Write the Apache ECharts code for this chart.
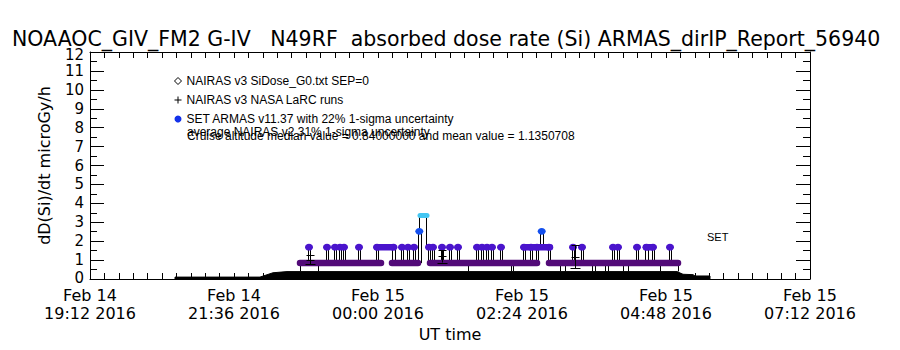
<!DOCTYPE html>
<html><head><meta charset="utf-8">
<script src="https://cdn.jsdelivr.net/npm/echarts@6/dist/echarts.min.js"></script>
<style>html,body{margin:0;padding:0;background:#fff}#chart{width:900px;height:350px}</style>
</head><body><div id="chart"></div>
<script>
// x values: minutes after Feb 14 2016 19:12 UT
const titleText = 'NOAAOC_GIV_FM2 G-IV   N49RF  absorbed dose rate (Si) ARMAS_dirIP_Report_56940';
const xTickLabels = ['Feb 14\n19:12 2016','Feb 14\n21:36 2016','Feb 15\n00:00 2016','Feb 15\n02:24 2016','Feb 15\n04:48 2016','Feb 15\n07:12 2016'];
const legendLabels = ['NAIRAS v3 SiDose_G0.txt SEP=0','NAIRAS v3 NASA LaRC runs','SET ARMAS v11.37 with 22% 1-sigma uncertainty'];
const noteLines = ['average NAIRAS v2 31% 1-sigma uncertainty','Cruise altitude median value = 0.84000000 and mean value = 1.1350708'];

// NAIRAS v3 model dose rate (black filled profile)
const nairasMinutes = [85, 85, 170, 183, 197, 587, 593, 603, 605, 620, 620];
const nairasValues  = [0, 0.10, 0.10, 0.33, 0.39, 0.39, 0.25, 0.23, 0.16, 0.16, 0];

// ARMAS constant runs: [startMinute, endMinute, value]
const armasRuns = [
  [210, 291, 0.84], [302, 328, 0.84], [340, 447, 0.84], [459, 588, 0.84],
  [287, 303, 1.68], [434, 460, 1.68], [556, 562, 1.68],
  [330, 337, 3.36]
];
// ARMAS single readings above the running level: [minute, value, level before]
const armasSpikes = [
  [219,1.68,0.84],[237,1.68,0.84],[245,1.68,0.84],[250,1.68,0.84],[254,1.68,0.84],[269,1.68,0.84],
  [287,1.68,0.84],[303.5,1.68,0.84],[312,1.68,0.84],[318,1.68,0.84],[324,1.68,0.84],
  [329.3,2.52,0.84],[339,1.68,0.84],[343,1.68,0.84],[352,1.68,0.84],[360,1.68,0.84],[368,1.68,0.84],
  [387,1.68,0.84],[392,1.68,0.84],[397,1.68,0.84],[402,1.68,0.84],[411,1.68,0.84],
  [434,1.68,0.84],[441,1.68,0.84],[447,1.68,0.84],[451.7,2.52,1.68],[459,1.68,0.84],
  [483,1.68,0.84],[492,1.68,0.84],[523,1.68,0.84],[528,1.68,0.84],[547,1.68,0.84],
  [556.5,1.68,0.84],[563,1.68,0.84],[580,1.68,0.84]
];
// ARMAS connecting steps: [minute, fromValue, toValue]
const armasLinks = [[329.3, 2.52, 3.36], [336.2, 3.36, 1.68]];
// ARMAS short drops: [minute, value]
const armasDips = [[210,0.4],[228,0.4],[378,0.4],[421,0.4],[423,0.4],[470,0.4],[475,0.4],[502,0.4],[505,0.4],[515,0.4],[518,0.4],[533,0.4],[538,0.4],[570,0.4],[588,0.4]];
// NAIRAS v3 LaRC runs: [minute, value, 1-sigma]
const larcRuns = [[220, 1.03, 0.24], [352, 1.2, 0.33], [485, 1.18, 0.62]];

function colorFor(v){
  if (v > 3) return '#44c6f2';
  if (v > 2) return '#1450ee';
  if (v > 1) return '#4a14cc';
  return '#520a78';
}
const px = x => Math.round(x) + 0.5;

const chart = echarts.init(document.getElementById('chart'), null, {renderer:'svg'});
const axisBlack = {lineStyle:{color:'#000', width:1}};
const FONT = 'DejaVu Sans';

const option = {
  animation: false,
  backgroundColor: '#fff',
  title: {text: titleText, left: 12, top: 28, padding: 0,
    textStyle:{fontFamily: FONT, fontSize: 20.5, fontWeight:'normal', color:'#000'}},
  grid: {left: 90, right: 90, top: 52, bottom: 71},
  legend: {
    left: 174, top: 75, padding: 0, orient:'vertical', itemWidth: 7, itemHeight: 7, itemGap: 7, selectedMode: false,
    textStyle:{fontFamily:'Liberation Sans', fontSize: 12, color:'#000'},
    data: [
      {name: legendLabels[0], icon:'diamond', itemStyle:{color:'#fff', borderColor:'#000', borderWidth:1}},
      {name: legendLabels[1], icon:'path://M3,0h1v3h3v1h-3v3h-1v-3h-3v-1h3z', itemStyle:{color:'#000'}},
      {name: legendLabels[2], icon:'circle', itemStyle:{color:'#1432ea'}}
    ]
  },
  graphic: [
    {type:'text', left:187, top:125.5, style:{text: noteLines[0], font:'12px "Liberation Sans"', fill:'#000'}},
    {type:'text', left:187, top:129.7, style:{text: noteLines[1], font:'12px "Liberation Sans"', fill:'#000'}},
    {type:'text', left:707, top:231, style:{text: 'SET', font:'11px "Liberation Sans"', fill:'#000'}}
  ],
  xAxis: [
    {type:'value', min:0, max:720, interval:144, position:'bottom',
      axisLine:{show:true, onZero:false, ...axisBlack},
      axisTick:{show:true, inside:true, length:6, ...axisBlack},
      minorTick:{show:true, splitNumber:10, length:6, ...axisBlack},
      splitLine:{show:false}, minorSplitLine:{show:false},
      axisLabel:{fontFamily:FONT, fontSize:16, lineHeight:18, color:'#000', margin:7,
        showMinLabel:true, showMaxLabel:true,
        formatter: v => xTickLabels[Math.round(v/144)]},
      name:'UT time', nameLocation:'middle', nameGap:45,
      nameTextStyle:{fontFamily:FONT, fontSize:16, color:'#000'}},
    {type:'value', min:0, max:720, interval:144, position:'top',
      axisLine:{show:true, onZero:false, ...axisBlack},
      axisTick:{show:true, inside:true, length:6, ...axisBlack},
      minorTick:{show:true, splitNumber:10, length:6, ...axisBlack},
      splitLine:{show:false}, axisLabel:{show:false}}
  ],
  yAxis: [
    {type:'value', min:0, max:12, interval:1, position:'left',
      axisLine:{show:true, onZero:false, ...axisBlack},
      axisTick:{show:true, inside:true, length:14, ...axisBlack},
      minorTick:{show:true, splitNumber:2, length:7, ...axisBlack},
      splitLine:{show:false},
      axisLabel:{fontFamily:FONT, fontSize:15, color:'#000', margin:6,
        showMinLabel:true, showMaxLabel:true, hideOverlap:false,
        formatter: v => v === 12 ? '{top|12}' : (v === 0 ? '{bot|0}' : String(v)),
        rich:{
          top:{fontFamily:FONT, fontSize:15, color:'#000', padding:[6,0,0,0]},
          bot:{fontFamily:FONT, fontSize:15, color:'#000', padding:[0,0,3,0]}
        }},
      name:'dD(Si)/dt microGy/h', nameLocation:'middle', nameGap:38,
      nameTextStyle:{fontFamily:FONT, fontSize:16, color:'#000'}},
    {type:'value', min:0, max:12, interval:1, position:'right',
      axisLine:{show:true, onZero:false, ...axisBlack},
      axisTick:{show:true, inside:true, length:14, ...axisBlack},
      minorTick:{show:true, splitNumber:2, length:7, ...axisBlack},
      splitLine:{show:false}, axisLabel:{show:false}}
  ],
  series: [
    {name: legendLabels[0], type:'line', z:2, symbol:'none',
      data: nairasMinutes.map((m,i)=>[m, nairasValues[i]]),
      lineStyle:{color:'#000', width:1}, itemStyle:{color:'#000'},
      areaStyle:{color:'#000', opacity:1}},
    {type:'custom', z:2, silent:true, encode:{x:0, y:1}, data: armasDips,
      renderItem:(p, api)=>{
        const a = api.coord([api.value(0), 0.84]), b = api.coord([api.value(0), api.value(1)]);
        return {type:'line', shape:{x1:px(a[0]), y1:a[1], x2:px(a[0]), y2:b[1]}, style:{stroke:'#000', lineWidth:1}};
      }},
    {name: legendLabels[2], type:'custom', z:3, encode:{x:0, y:1}, data: armasSpikes,
      itemStyle:{color:'#1432ea'},
      renderItem:(p, api)=>{
        const t = api.value(0), v = api.value(1), b = api.value(2);
        const top = api.coord([t, v]), bot = api.coord([t, b]);
        return {type:'group', children:[
          {type:'line', shape:{x1:px(top[0]-1.4), y1:top[1], x2:px(top[0]-1.4), y2:bot[1]}, style:{stroke:'#000', lineWidth:1}},
          {type:'line', shape:{x1:px(top[0]+1.4), y1:top[1], x2:px(top[0]+1.4), y2:bot[1]}, style:{stroke:'#000', lineWidth:1}},
          {type:'ellipse', shape:{cx:top[0], cy:top[1], rx:4, ry:3.4}, style:{fill: colorFor(v)}, z2:5}
        ]};
      }},
    {type:'custom', z:3, silent:true, encode:{x:0, y:[1,2]}, data: armasLinks,
      renderItem:(p, api)=>{
        const a = api.coord([api.value(0), api.value(1)]), b = api.coord([api.value(0), api.value(2)]);
        return {type:'line', shape:{x1:px(a[0]), y1:a[1], x2:px(a[0]), y2:b[1]}, style:{stroke:'#000', lineWidth:1}};
      }},
    {type:'custom', z:4, silent:true, encode:{x:[0,1], y:2}, data: armasRuns,
      renderItem:(p, api)=>{
        const v = api.value(2);
        const s = api.coord([api.value(0), v]), e = api.coord([api.value(1), v]);
        return {type:'line', shape:{x1:s[0], y1:s[1], x2:e[0], y2:e[1]},
          style:{stroke: colorFor(v), lineWidth: v > 3 ? 5 : 6.5, lineCap:'round'}};
      }},
    {name: legendLabels[1], type:'custom', z:5, encode:{x:0, y:1}, data: larcRuns,
      itemStyle:{color:'#000'},
      renderItem:(p, api)=>{
        const t = api.value(0), v = api.value(1), e = api.value(2);
        const c = api.coord([t, v]), hi = api.coord([t, v+e]), lo = api.coord([t, v-e]);
        const x = px(c[0]);
        const st = {stroke:'#000', lineWidth:1};
        return {type:'group', children:[
          {type:'line', shape:{x1:x, y1:hi[1], x2:x, y2:lo[1]}, style:st},
          {type:'line', shape:{x1:x-4, y1:px(hi[1]), x2:x+4, y2:px(hi[1])}, style:st},
          {type:'line', shape:{x1:x-5, y1:px(lo[1]), x2:x+5, y2:px(lo[1])}, style:st},
          {type:'line', shape:{x1:x-4, y1:px(c[1]), x2:x+4, y2:px(c[1])}, style:st}
        ]};
      }}
  ]
};
chart.setOption(option);
</script></body></html>
